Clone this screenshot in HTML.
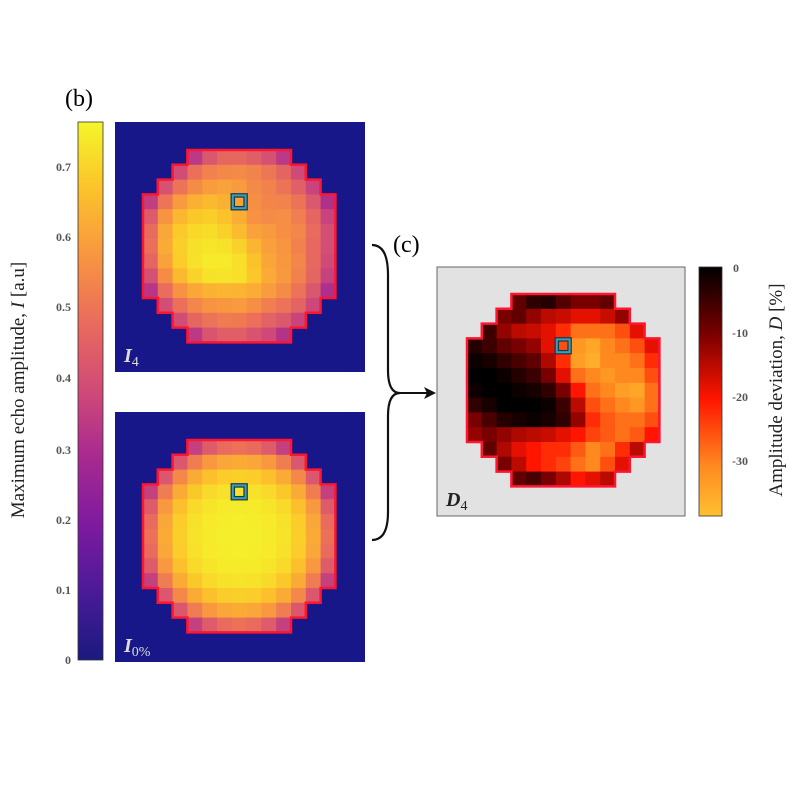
<!DOCTYPE html>
<html><head><meta charset="utf-8"><style>
html,body{margin:0;padding:0;background:#fff;}
svg{display:block;font-family:"Liberation Serif",serif;}
</style></head><body>
<svg id="s" width="800" height="800" xmlns="http://www.w3.org/2000/svg">
<defs>
<linearGradient id="pl" x1="0" y1="1" x2="0" y2="0">
<stop offset="0" stop-color="#1a1a80"/><stop offset="0.13" stop-color="#4c1a98"/>
<stop offset="0.25" stop-color="#7e1aa0"/><stop offset="0.38" stop-color="#a92a90"/>
<stop offset="0.5" stop-color="#d04a78"/><stop offset="0.63" stop-color="#ea6c5c"/>
<stop offset="0.75" stop-color="#f89540"/><stop offset="0.88" stop-color="#fcc42a"/>
<stop offset="1" stop-color="#f4f62a"/></linearGradient>
<linearGradient id="ht" x1="0" y1="0" x2="0" y2="1">
<stop offset="0" stop-color="#000"/><stop offset="0.27" stop-color="#7a0000"/>
<stop offset="0.53" stop-color="#ff1500"/><stop offset="0.8" stop-color="#ff8a20"/>
<stop offset="1" stop-color="#ffc030"/></linearGradient>
</defs>
<rect x="0" y="0" width="800" height="800" fill="#fff"/>
<text x="65" y="106" font-size="24">(b)</text>
<rect x="78" y="122" width="25" height="538" fill="url(#pl)" stroke="#333" stroke-width="0.8"/>
<g font-size="12" font-weight="bold" fill="#555" text-anchor="end">
<text x="71" y="664">0</text><text x="71" y="594">0.1</text><text x="71" y="524">0.2</text>
<text x="71" y="454">0.3</text><text x="71" y="382">0.4</text><text x="71" y="311">0.5</text>
<text x="71" y="241">0.6</text><text x="71" y="171">0.7</text></g>
<text transform="translate(24,390) rotate(-90)" font-size="19" text-anchor="middle" fill="#222">Maximum echo amplitude, <tspan font-style="italic">I</tspan> [a.u]</text>
<rect x="115" y="122" width="250" height="250" fill="#17178a"/>
<rect x="115" y="412" width="250" height="250" fill="#17178a"/>
<rect x="437" y="267" width="248" height="249" fill="#e2e2e2" stroke="#666" stroke-width="1"/>
<g id="maps"></g>
<text x="124" y="362" font-size="20" font-weight="bold" font-style="italic" fill="#ddd">I<tspan font-size="14" font-style="normal" font-weight="normal" dy="4">4</tspan></text>
<text x="124" y="652" font-size="20" font-weight="bold" font-style="italic" fill="#ddd">I<tspan font-size="14" font-style="normal" font-weight="normal" dy="4">0%</tspan></text>
<text x="446" y="506" font-size="20" font-weight="bold" font-style="italic" fill="#222">D<tspan font-size="14" font-style="normal" font-weight="normal" dy="4">4</tspan></text>
<rect x="699" y="267" width="23" height="249" fill="url(#ht)" stroke="#333" stroke-width="0.8"/>
<g font-size="12" font-weight="bold" fill="#555">
<text x="733" y="272">0</text><text x="732" y="337">-10</text><text x="732" y="401">-20</text><text x="732" y="465">-30</text></g>
<text transform="translate(782,390) rotate(-90)" font-size="19" text-anchor="middle" fill="#222">Amplitude deviation, <tspan font-style="italic">D</tspan> [%]</text>
<text x="393" y="252" font-size="24">(c)</text>
<path d="M372,245 Q388,245 388,275 L388,370 Q388,393 400,393 Q388,393 388,416 L388,512 Q388,540 372,540" fill="none" stroke="#111" stroke-width="2.2"/>
<line x1="400" y1="393" x2="428" y2="393" stroke="#111" stroke-width="2"/>
<polygon points="436,393 424,387 427,393 424,399" fill="#111"/>
</svg>
<script>
var W=[7,9,11,13,13,13,13,13,13,13,11,9,7];
var D=[
[-8,-4,-3,-7,-10,-10,-8],
[-10,-8,-12,-15,-16,-18,-18,-16,-12],
[-5,-12,-15,-16,-18,-22,-28,-28,-28,-25,-18],
[-3,-5,-8,-10,-12,-18,-25,-32,-34,-30,-28,-25,-18],
[-1,-2,-4,-6,-8,-14,-22,-33,-35,-30,-30,-28,-22],
[0,0,-1,-3,-5,-10,-18,-28,-30,-32,-30,-30,-25],
[-1,0,0,-1,-2,-4,-10,-20,-28,-30,-33,-34,-28],
[-4,-2,0,0,0,-1,-5,-15,-25,-28,-30,-32,-28],
[-10,-6,-3,-2,-1,-2,-4,-12,-22,-26,-28,-28,-25],
[-12,-10,-12,-14,-15,-16,-18,-20,-24,-26,-28,-26,-20],
[-8,-14,-18,-20,-22,-22,-26,-30,-28,-22,-15],
[-10,-15,-20,-22,-24,-28,-30,-25,-18],
[-8,-6,-10,-14,-20,-18,-15]];
function hx(a){return [parseInt(a.substr(1,2),16),parseInt(a.substr(3,2),16),parseInt(a.substr(5,2),16)];}
function cm(st,t){t=Math.max(0,Math.min(1,t));for(var i=1;i<st.length;i++){if(t<=st[i][0]){var a=st[i-1],b=st[i],f=(t-a[0])/(b[0]-a[0]),A=hx(a[1]),B=hx(b[1]);return "rgb("+A.map(function(v,k){return Math.round(v+(B[k]-v)*f)}).join(",")+")";}}return st[st.length-1][1];}
var PL=[[0,"#1a1a80"],[.13,"#4c1a98"],[.25,"#7e1aa0"],[.38,"#a92a90"],[.5,"#d04a78"],[.63,"#ea6c5c"],[.75,"#f89540"],[.88,"#fcc42a"],[1,"#f4f62a"]];
var HT=[[0,"#000000"],[.27,"#7a0000"],[.53,"#ff1500"],[.8,"#ff8a20"],[1,"#ffc030"]];
var g=document.getElementById("maps"),h="",cs=14.8;
function map(x0,y0,f){
 var p="";
 for(var r=0;r<13;r++){var w=W[r],c0=(13-w)/2;
  for(var j=0;j<w;j++){var c=c0+j;
   h+='<rect x="'+(x0+c*cs).toFixed(1)+'" y="'+(y0+r*cs).toFixed(1)+'" width="'+(cs+0.6)+'" height="'+(cs+0.6)+'" fill="'+f(r,c,D[r][j])+'"/>';}}
 var pts=[];
 for(var r=0;r<13;r++){var c0=(13-W[r])/2;pts.push([x0+(c0+W[r])*cs,y0+r*cs],[x0+(c0+W[r])*cs,y0+(r+1)*cs]);}
 for(var r=12;r>=0;r--){var c0=(13-W[r])/2;pts.push([x0+c0*cs,y0+(r+1)*cs],[x0+c0*cs,y0+r*cs]);}
 h+='<polygon points="'+pts.map(function(q){return q[0].toFixed(1)+","+q[1].toFixed(1)}).join(" ")+'" fill="none" stroke="#ff1530" stroke-width="2.5"/>';
 h+='<rect x="'+(x0+6*cs+1).toFixed(1)+'" y="'+(y0+3*cs+1).toFixed(1)+'" width="'+(cs-2)+'" height="'+(cs-2)+'" fill="none" stroke="#1a3a4a" stroke-width="4.5"/>';
 h+='<rect x="'+(x0+6*cs+1).toFixed(1)+'" y="'+(y0+3*cs+1).toFixed(1)+'" width="'+(cs-2)+'" height="'+(cs-2)+'" fill="none" stroke="#3aa0b8" stroke-width="2"/>';
}
function i0(r,c){var d2=(r-6)*(r-6)+(c-6)*(c-6);return 0.75-0.0007*d2-0.00018*d2*d2;}
map(143,150,function(r,c,d){return cm(PL,i0(r,c)*(1+d/140)/0.764);});
map(143,440,function(r,c,d){return cm(PL,i0(r,c)/0.764);});
map(467,294,function(r,c,d){return cm(HT,-d/37.7);});
g.innerHTML=h;
</script>
</body></html>
